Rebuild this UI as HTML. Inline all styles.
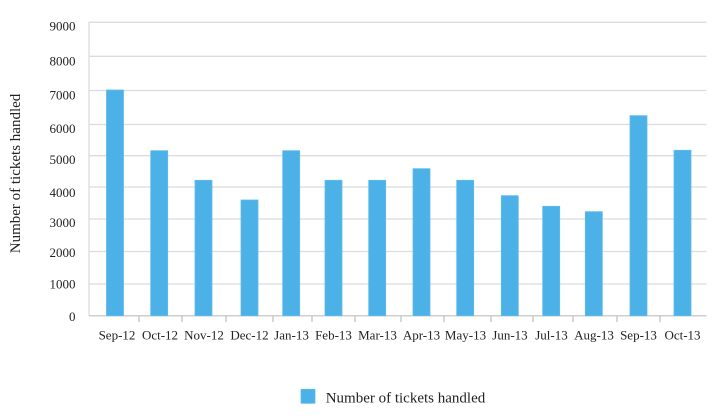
<!DOCTYPE html>
<html><head><meta charset="utf-8"><style>
html,body{margin:0;padding:0;background:#fff;}
svg{display:block;}
text{font-family:"Liberation Serif","Times New Roman",serif;fill:#222;}
</style></head><body>
<svg width="722" height="419" viewBox="0 0 722 419" xmlns="http://www.w3.org/2000/svg">
<g stroke="#dcdcdc" stroke-width="1.3">
<line x1="89" y1="22.3" x2="706.5" y2="22.3"/>
<line x1="89" y1="56.3" x2="706.5" y2="56.3"/>
<line x1="89" y1="90.5" x2="706.5" y2="90.5"/>
<line x1="89" y1="124.5" x2="706.5" y2="124.5"/>
<line x1="89" y1="155.7" x2="706.5" y2="155.7"/>
<line x1="89" y1="187" x2="706.5" y2="187"/>
<line x1="89" y1="219" x2="706.5" y2="219"/>
<line x1="89" y1="251.5" x2="706.5" y2="251.5"/>
<line x1="89" y1="284" x2="706.5" y2="284"/>
<line x1="89" y1="22" x2="89" y2="316"/>
</g>
<line x1="89" y1="315.7" x2="706.5" y2="315.7" stroke="#cfcfcf" stroke-width="1.5"/>
<g stroke="#bdbdbd" stroke-width="1.2">
<line x1="139" y1="316" x2="139" y2="322"/>
<line x1="182" y1="316" x2="182" y2="322"/>
<line x1="226" y1="316" x2="226" y2="322"/>
<line x1="273" y1="316" x2="273" y2="322"/>
<line x1="312" y1="316" x2="312" y2="322"/>
<line x1="355" y1="316" x2="355" y2="322"/>
<line x1="401" y1="316" x2="401" y2="322"/>
<line x1="444" y1="316" x2="444" y2="322"/>
<line x1="491" y1="316" x2="491" y2="322"/>
<line x1="533" y1="316" x2="533" y2="322"/>
<line x1="573" y1="316" x2="573" y2="322"/>
<line x1="617" y1="316" x2="617" y2="322"/>
<line x1="660" y1="316" x2="660" y2="322"/>
</g>
<g fill="#4cb1e7" stroke="#5fbcec" stroke-width="0.8">
<rect x="106.5" y="90" width="17" height="225.7"/>
<rect x="150.7" y="150.7" width="17" height="165"/>
<rect x="195" y="180.3" width="17" height="135.4"/>
<rect x="241" y="200" width="17" height="115.7"/>
<rect x="282.7" y="150.7" width="17" height="165"/>
<rect x="325" y="180.3" width="17" height="135.4"/>
<rect x="368.7" y="180.3" width="17" height="135.4"/>
<rect x="413" y="168.7" width="17" height="147"/>
<rect x="456.7" y="180.3" width="17" height="135.4"/>
<rect x="501.3" y="195.7" width="17" height="120"/>
<rect x="542.7" y="206.3" width="17" height="109.4"/>
<rect x="585.3" y="211.7" width="17" height="104"/>
<rect x="630" y="115.7" width="17" height="200"/>
<rect x="674" y="150.3" width="17" height="165.4"/>
</g>
<g font-size="13" text-anchor="end">
<text x="75.5" y="30.5">9000</text>
<text x="75.5" y="65.5">8000</text>
<text x="75.5" y="99.5">7000</text>
<text x="75.5" y="133">6000</text>
<text x="75.5" y="164">5000</text>
<text x="75.5" y="197">4000</text>
<text x="75.5" y="227">3000</text>
<text x="75.5" y="257">2000</text>
<text x="75.5" y="288.5">1000</text>
<text x="75.5" y="321">0</text>
</g>
<g font-size="13" text-anchor="middle">
<text x="117" y="339.5">Sep-12</text>
<text x="160" y="339.5">Oct-12</text>
<text x="204" y="339.5">Nov-12</text>
<text x="249.5" y="339.5">Dec-12</text>
<text x="291.5" y="339.5">Jan-13</text>
<text x="333.5" y="339.5">Feb-13</text>
<text x="377.5" y="339.5">Mar-13</text>
<text x="421.5" y="339.5">Apr-13</text>
<text x="465.5" y="339.5">May-13</text>
<text x="510" y="339.5">Jun-13</text>
<text x="551.5" y="339.5">Jul-13</text>
<text x="594" y="339.5">Aug-13</text>
<text x="638.5" y="339.5">Sep-13</text>
<text x="682.5" y="339.5">Oct-13</text>
</g>
<text font-size="15" text-anchor="middle" transform="translate(20,173.5) rotate(-90)">Number of tickets handled</text>
<rect x="301" y="389.3" width="14" height="14" fill="#4cb1e7" stroke="#5fbcec" stroke-width="0.8"/>
<text font-size="15" x="325.7" y="402.7">Number of tickets handled</text>
</svg>
</body></html>
